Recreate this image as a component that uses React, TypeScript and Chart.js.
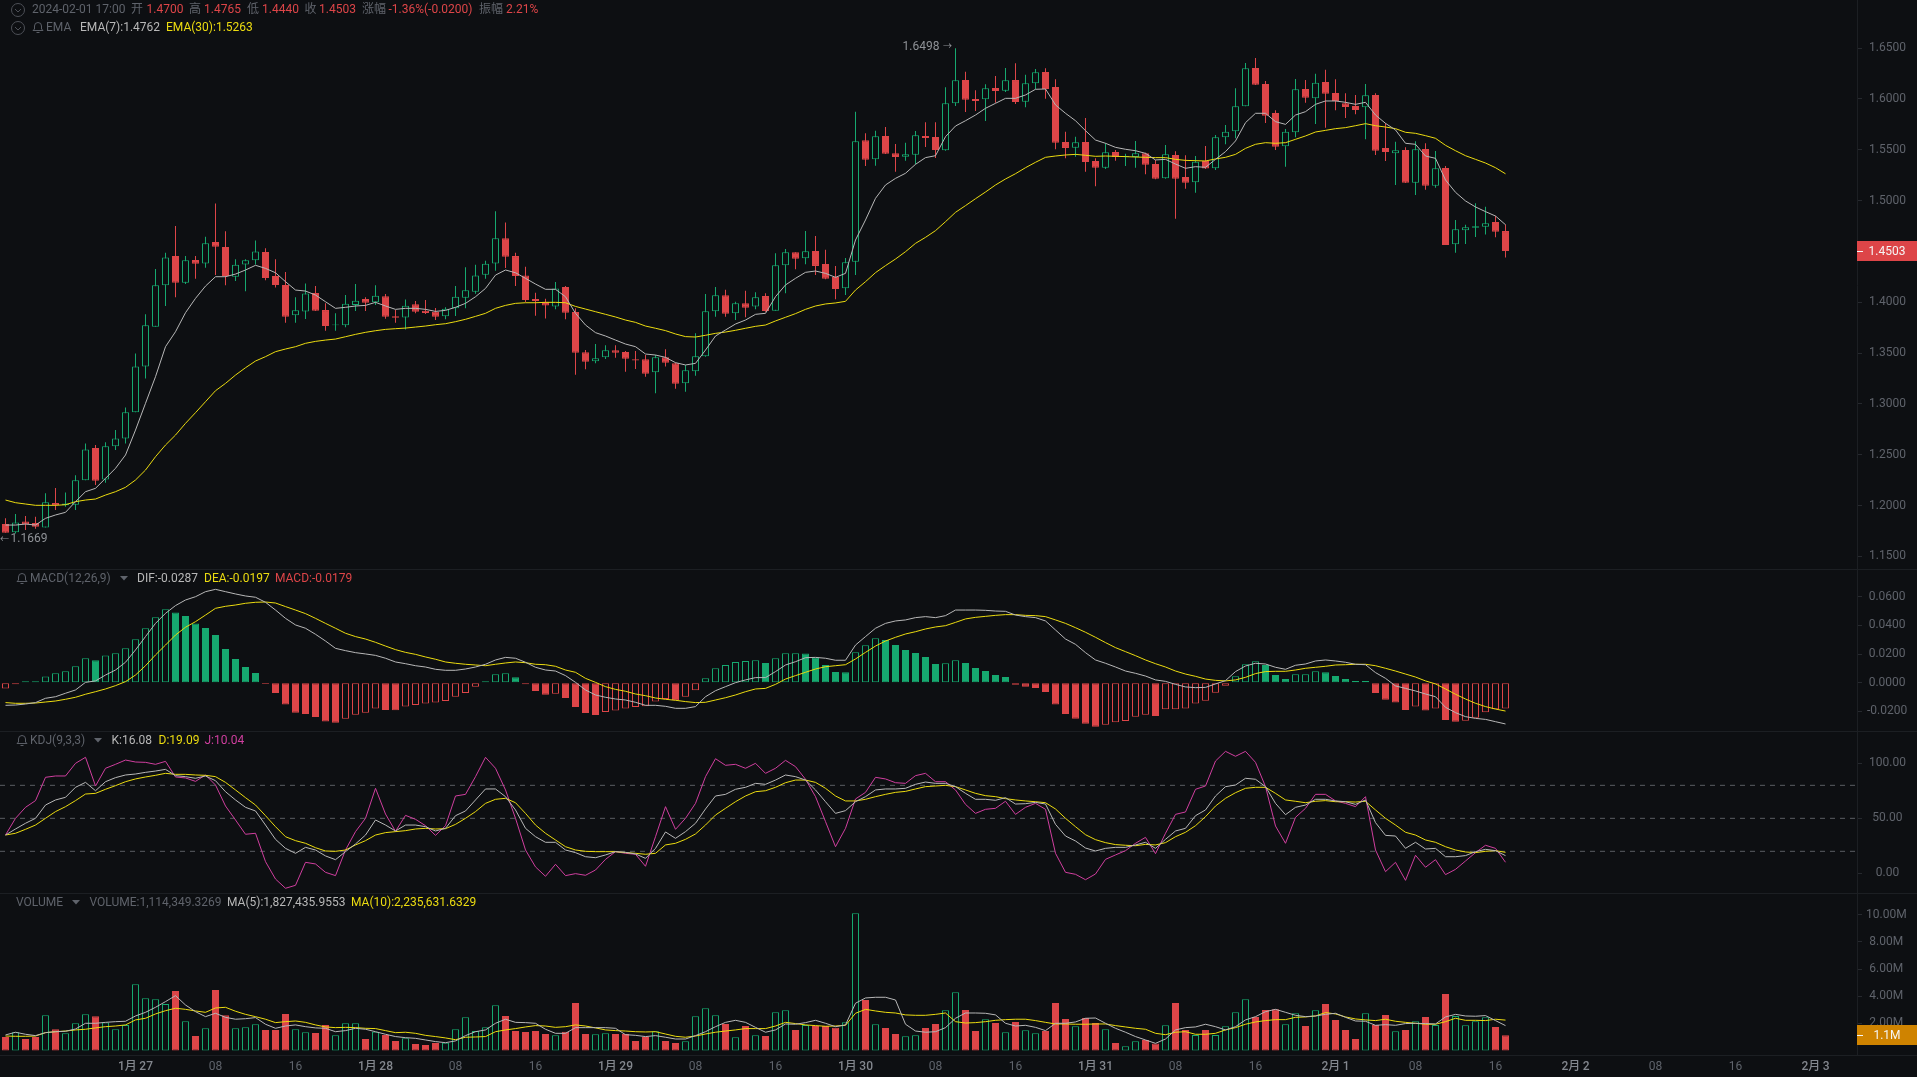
import React, { useEffect, useRef } from 'react';
import { Chart, registerables } from 'chart.js';

Chart.register(...registerables);

// hourly candles, 2024-01-26 11:00 to 2024-02-01 17:00
const opens = [
  1.1819,1.1737,1.1845,1.1829,1.1786,1.2026,1.2003,1.2009,1.2249,1.2566,
  1.2258,1.2583,1.2661,1.2917,1.3369,1.3759,1.4166,1.4454,1.4192,1.4415,
  1.4382,1.4592,1.4543,1.4251,1.4372,1.4412,1.4494,1.4258,1.4169,1.3871,
  1.3910,1.4090,1.3923,1.3773,1.3773,1.3973,1.4032,1.3999,1.4058,1.3861,
  1.3851,1.3979,1.3917,1.3907,1.3861,1.3940,1.4045,1.4104,1.4271,1.4382,
  1.4628,1.4454,1.4264,1.4032,1.4005,1.3959,1.4150,1.3904,1.3507,1.3419,
  1.3458,1.3527,1.3511,1.3439,1.3439,1.3311,1.3458,1.3399,1.3203,1.3321,
  1.3468,1.3911,1.4068,1.3891,1.3989,1.3957,1.4061,1.3917,1.4363,1.4491,
  1.4432,1.4504,1.4376,1.4248,1.4137,1.4399,1.5592,1.5405,1.5635,1.5464,
  1.5431,1.5451,1.5635,1.5625,1.5494,1.5956,1.6185,1.5998,1.5995,1.6107,
  1.6080,1.6185,1.5972,1.6153,1.6264,1.6117,1.5576,1.5520,1.5576,1.5389,
  1.5323,1.5477,1.5428,1.5428,1.5464,1.5359,1.5218,1.5448,1.5232,1.5179,
  1.5389,1.5317,1.5622,1.5681,1.5926,1.6303,1.6146,1.5861,1.5533,1.5671,
  1.6097,1.6005,1.6166,1.6058,1.5956,1.5930,1.5917,1.6038,1.5517,1.5464,
  1.5497,1.5176,1.5507,1.5146,1.5320,1.4569,1.4707,1.4733,1.4743,1.4789,1.4700,
];
const highs = [
  1.1875,1.1917,1.1898,1.1891,1.2121,1.2173,1.2130,1.2298,1.2612,1.2596,
  1.2622,1.2743,1.2966,1.3497,1.3881,1.4327,1.4487,1.4749,1.4454,1.4454,
  1.4644,1.4972,1.4697,1.4422,1.4422,1.4608,1.4530,1.4422,1.4297,1.4048,
  1.4185,1.4159,1.3989,1.3891,1.4071,1.4179,1.4048,1.4166,1.4081,1.3923,
  1.4028,1.4012,1.4022,1.3943,1.3950,1.4159,1.4343,1.4369,1.4408,1.4894,
  1.4785,1.4487,1.4349,1.4094,1.4035,1.4199,1.4159,1.3940,1.3530,1.3589,
  1.3576,1.3576,1.3521,1.3521,1.3481,1.3481,1.3537,1.3406,1.3383,1.3694,
  1.4081,1.4150,1.4124,1.4006,1.4114,1.4097,1.4088,1.4481,1.4524,1.4491,
  1.4701,1.4651,1.4517,1.4357,1.4435,1.5874,1.5661,1.5687,1.5723,1.5556,
  1.5569,1.5684,1.5769,1.5769,1.6113,1.6498,1.6267,1.6084,1.6143,1.6225,
  1.6303,1.6349,1.6238,1.6294,1.6300,1.6192,1.5677,1.5628,1.5812,1.5415,
  1.5563,1.5497,1.5461,1.5586,1.5471,1.5399,1.5546,1.5484,1.5445,1.5438,
  1.5536,1.5645,1.5743,1.6103,1.6353,1.6402,1.6176,1.5887,1.5704,1.6195,
  1.6185,1.6248,1.6287,1.6192,1.6054,1.6038,1.6146,1.6054,1.5759,1.5579,
  1.5523,1.5582,1.5563,1.5487,1.5340,1.4809,1.4763,1.4973,1.4940,1.4848,1.4765,
];
const lows = [
  1.1734,1.1727,1.1760,1.1773,1.1786,1.1957,1.1990,1.1957,1.2249,1.2203,
  1.2225,1.2547,1.2612,1.2917,1.3251,1.3759,1.3963,1.4048,1.4179,1.4231,
  1.4340,1.4267,1.4166,1.4209,1.4107,1.4372,1.4215,1.4146,1.3799,1.3799,
  1.3835,1.3913,1.3720,1.3720,1.3753,1.3913,1.3913,1.3973,1.3838,1.3799,
  1.3733,1.3891,1.3884,1.3825,1.3832,1.3864,1.3940,1.4084,1.4231,1.4310,
  1.4336,1.4159,1.4002,1.3868,1.3841,1.3930,1.3832,1.3287,1.3340,1.3399,
  1.3442,1.3455,1.3317,1.3344,1.3268,1.3104,1.3367,1.3150,1.3121,1.3278,
  1.3465,1.3858,1.3858,1.3825,1.3852,1.3930,1.3907,1.3917,1.4088,1.4324,
  1.4373,1.4268,1.4225,1.4029,1.4071,1.4268,1.5340,1.5343,1.5458,1.5284,
  1.5392,1.5356,1.5526,1.5418,1.5490,1.5930,1.5871,1.5881,1.5782,1.5962,
  1.6067,1.5949,1.5917,1.6094,1.6002,1.5504,1.5415,1.5431,1.5284,1.5140,
  1.5310,1.5392,1.5340,1.5323,1.5258,1.5209,1.5215,1.4822,1.5117,1.5077,
  1.5310,1.5300,1.5553,1.5612,1.5926,1.6136,1.5763,1.5497,1.5333,1.5622,
  1.5962,1.5753,1.5717,1.5887,1.5812,1.5848,1.5602,1.5448,1.5389,1.5153,
  1.5173,1.5055,1.5107,1.5127,1.4563,1.4487,1.4573,1.4642,1.4665,1.4638,1.4440,
];
const closes = [
  1.1734,1.1835,1.1816,1.1793,1.2032,1.2003,1.2022,1.2249,1.2553,1.2245,
  1.2583,1.2661,1.2917,1.3369,1.3773,1.4166,1.4441,1.4192,1.4412,1.4379,
  1.4579,1.4546,1.4258,1.4369,1.4412,1.4500,1.4238,1.4169,1.3858,1.3920,
  1.4087,1.3917,1.3766,1.3782,1.3986,1.4015,1.3995,1.4064,1.3858,1.3848,
  1.3966,1.3907,1.3894,1.3858,1.3936,1.4054,1.4117,1.4264,1.4379,1.4628,
  1.4448,1.4258,1.4022,1.4012,1.3969,1.4136,1.3897,1.3504,1.3415,1.3448,
  1.3527,1.3504,1.3445,1.3426,1.3298,1.3458,1.3406,1.3199,1.3331,1.3468,
  1.3911,1.4068,1.3888,1.3989,1.3947,1.4048,1.3914,1.4363,1.4491,1.4428,
  1.4501,1.4357,1.4232,1.4130,1.4392,1.5582,1.5402,1.5631,1.5461,1.5428,
  1.5454,1.5641,1.5615,1.5497,1.5956,1.6182,1.5992,1.5979,1.6103,1.6077,
  1.6182,1.5969,1.6153,1.6261,1.6097,1.5569,1.5517,1.5572,1.5379,1.5323,
  1.5474,1.5428,1.5438,1.5464,1.5353,1.5215,1.5454,1.5215,1.5176,1.5382,
  1.5314,1.5622,1.5677,1.5926,1.6300,1.6139,1.5835,1.5530,1.5677,1.6094,
  1.6012,1.6159,1.6051,1.5979,1.5920,1.5890,1.6035,1.5490,1.5477,1.5494,
  1.5176,1.5504,1.5146,1.5317,1.4563,1.4717,1.4737,1.4746,1.4776,1.4694,1.4503,
];
const ema7 = [
  1.1809,1.1809,1.1819,1.1809,1.1875,1.1908,1.1934,1.2039,1.2137,1.2170,
  1.2268,1.2367,1.2498,1.2743,1.3006,1.3268,1.3563,1.3710,1.3897,1.4038,
  1.4159,1.4251,1.4251,1.4277,1.4317,1.4363,1.4333,1.4290,1.4202,1.4120,
  1.4110,1.4071,1.4005,1.3940,1.3950,1.3963,1.3969,1.3999,1.3963,1.3930,
  1.3940,1.3940,1.3930,1.3910,1.3920,1.3950,1.3989,1.4054,1.4136,1.4267,
  1.4317,1.4290,1.4235,1.4179,1.4127,1.4127,1.4054,1.3891,1.3776,1.3701,
  1.3668,1.3628,1.3589,1.3563,1.3491,1.3481,1.3458,1.3406,1.3383,1.3399,
  1.3530,1.3668,1.3727,1.3786,1.3825,1.3881,1.3891,1.4055,1.4170,1.4235,
  1.4294,1.4307,1.4284,1.4245,1.4284,1.4612,1.4809,1.5022,1.5153,1.5218,
  1.5268,1.5356,1.5422,1.5441,1.5628,1.5733,1.5785,1.5841,1.5907,1.5956,
  1.6005,1.6005,1.6038,1.6094,1.6097,1.5940,1.5858,1.5785,1.5687,1.5595,
  1.5563,1.5523,1.5504,1.5490,1.5464,1.5399,1.5405,1.5359,1.5317,1.5333,
  1.5327,1.5405,1.5481,1.5586,1.5766,1.5858,1.5858,1.5776,1.5749,1.5841,
  1.5874,1.5946,1.5979,1.5979,1.5966,1.5946,1.5966,1.5841,1.5759,1.5694,
  1.5563,1.5553,1.5438,1.5415,1.5202,1.5081,1.4996,1.4937,1.4891,1.4848,1.4762,
];
const ema30 = [
  1.2055,1.2029,1.2016,1.2003,1.2003,1.2003,1.2009,1.2039,1.2055,1.2065,
  1.2104,1.2137,1.2180,1.2252,1.2350,1.2481,1.2596,1.2694,1.2809,1.2914,
  1.3022,1.3130,1.3202,1.3284,1.3356,1.3422,1.3465,1.3514,1.3540,1.3563,
  1.3596,1.3615,1.3628,1.3638,1.3661,1.3684,1.3704,1.3720,1.3733,1.3740,
  1.3746,1.3756,1.3766,1.3779,1.3789,1.3809,1.3832,1.3861,1.3891,1.3940,
  1.3969,1.3989,1.3995,1.3995,1.3999,1.3999,1.3995,1.3959,1.3933,1.3907,
  1.3881,1.3855,1.3825,1.3802,1.3766,1.3744,1.3721,1.3688,1.3662,1.3658,
  1.3675,1.3694,1.3707,1.3724,1.3744,1.3763,1.3776,1.3816,1.3852,1.3888,
  1.3930,1.3963,1.3983,1.3993,1.4009,1.4120,1.4202,1.4291,1.4360,1.4425,
  1.4497,1.4579,1.4638,1.4704,1.4792,1.4884,1.4950,1.5018,1.5084,1.5153,
  1.5212,1.5264,1.5323,1.5376,1.5425,1.5438,1.5448,1.5454,1.5445,1.5435,
  1.5438,1.5435,1.5432,1.5428,1.5425,1.5422,1.5422,1.5405,1.5395,1.5392,
  1.5389,1.5409,1.5425,1.5454,1.5513,1.5553,1.5569,1.5563,1.5569,1.5602,
  1.5635,1.5674,1.5690,1.5707,1.5717,1.5736,1.5756,1.5736,1.5723,1.5707,
  1.5671,1.5661,1.5638,1.5612,1.5543,1.5490,1.5441,1.5405,1.5369,1.5323,1.5263,
];
const macdBars = [
  -0.0039,-0.0011,0.0010,0.0010,0.0043,0.0066,0.0080,0.0115,0.0171,0.0157,
  0.0191,0.0205,0.0240,0.0303,0.0380,0.0456,0.0512,0.0489,0.0466,0.0414,
  0.0382,0.0333,0.0236,0.0166,0.0110,0.0068,-0.0008,-0.0071,-0.0152,-0.0208,
  -0.0217,-0.0238,-0.0269,-0.0278,-0.0250,-0.0222,-0.0208,-0.0180,-0.0190,-0.0192,
  -0.0166,-0.0155,-0.0145,-0.0138,-0.0127,-0.0097,-0.0071,-0.0027,0.0010,0.0059,
  0.0066,0.0038,-0.0011,-0.0057,-0.0083,-0.0076,-0.0106,-0.0169,-0.0210,-0.0224,
  -0.0203,-0.0194,-0.0180,-0.0169,-0.0164,-0.0131,-0.0113,-0.0122,-0.0097,-0.0052,
  0.0031,0.0101,0.0124,0.0145,0.0152,0.0157,0.0138,0.0171,0.0205,0.0205,
  0.0204,0.0175,0.0124,0.0075,0.0074,0.0212,0.0261,0.0310,0.0298,0.0263,
  0.0229,0.0208,0.0180,0.0131,0.0136,0.0157,0.0138,0.0103,0.0082,0.0054,
  0.0040,-0.0013,-0.0027,-0.0036,-0.0064,-0.0152,-0.0217,-0.0250,-0.0285,-0.0306,
  -0.0292,-0.0275,-0.0266,-0.0236,-0.0222,-0.0231,-0.0185,-0.0184,-0.0180,-0.0145,
  -0.0125,-0.0069,-0.0020,0.0045,0.0129,0.0150,0.0124,0.0054,0.0026,0.0059,
  0.0060,0.0080,0.0073,0.0047,0.0026,0.0013,0.0012,-0.0071,-0.0118,-0.0138,
  -0.0190,-0.0166,-0.0194,-0.0180,-0.0259,-0.0271,-0.0264,-0.0243,-0.0206,-0.0185,-0.0179,
];
const dif = [
  -0.0157,-0.0155,-0.0148,-0.0138,-0.0108,-0.0097,-0.0073,-0.0050,0.0003,0.0013,
  0.0054,0.0089,0.0143,0.0229,0.0322,0.0414,0.0484,0.0538,0.0577,0.0600,
  0.0635,0.0651,0.0635,0.0619,0.0605,0.0596,0.0561,0.0507,0.0449,0.0403,
  0.0380,0.0338,0.0291,0.0240,0.0224,0.0210,0.0201,0.0191,0.0171,0.0145,
  0.0133,0.0119,0.0110,0.0094,0.0087,0.0087,0.0096,0.0110,0.0129,0.0159,
  0.0177,0.0171,0.0143,0.0108,0.0089,0.0082,0.0050,0.0003,-0.0050,-0.0085,
  -0.0101,-0.0113,-0.0120,-0.0136,-0.0157,-0.0157,-0.0164,-0.0178,-0.0178,-0.0166,
  -0.0097,-0.0055,-0.0027,0.0001,0.0020,0.0036,0.0036,0.0078,0.0124,0.0147,
  0.0175,0.0177,0.0171,0.0157,0.0157,0.0263,0.0322,0.0380,0.0414,0.0431,
  0.0438,0.0454,0.0461,0.0454,0.0468,0.0507,0.0507,0.0507,0.0505,0.0500,
  0.0498,0.0472,0.0461,0.0454,0.0431,0.0368,0.0305,0.0268,0.0210,0.0159,
  0.0136,0.0110,0.0082,0.0066,0.0047,0.0020,0.0010,-0.0011,-0.0029,-0.0034,
  -0.0032,-0.0008,0.0015,0.0078,0.0117,0.0136,0.0131,0.0108,0.0094,0.0122,
  0.0131,0.0152,0.0159,0.0152,0.0143,0.0129,0.0126,0.0071,0.0031,-0.0022,
  -0.0039,-0.0057,-0.0078,-0.0097,-0.0171,-0.0208,-0.0236,-0.0248,-0.0255,-0.0271,-0.0287,
];
const dea = [
  -0.0138,-0.0143,-0.0143,-0.0141,-0.0134,-0.0127,-0.0115,-0.0101,-0.0080,-0.0062,
  -0.0043,-0.0020,0.0008,0.0054,0.0119,0.0194,0.0263,0.0333,0.0387,0.0426,
  0.0472,0.0519,0.0533,0.0542,0.0554,0.0561,0.0563,0.0556,0.0531,0.0507,
  0.0482,0.0449,0.0414,0.0380,0.0345,0.0322,0.0305,0.0282,0.0256,0.0231,
  0.0212,0.0198,0.0180,0.0164,0.0145,0.0136,0.0129,0.0124,0.0119,0.0129,
  0.0138,0.0145,0.0140,0.0129,0.0126,0.0115,0.0089,0.0073,0.0031,0.0003,
  -0.0027,-0.0046,-0.0059,-0.0078,-0.0090,-0.0106,-0.0115,-0.0122,-0.0131,-0.0138,
  -0.0136,-0.0120,-0.0104,-0.0085,-0.0062,-0.0043,-0.0039,-0.0011,0.0026,0.0050,
  0.0073,0.0096,0.0112,0.0119,0.0126,0.0166,0.0212,0.0256,0.0291,0.0317,
  0.0340,0.0356,0.0375,0.0389,0.0398,0.0421,0.0445,0.0456,0.0463,0.0470,
  0.0475,0.0475,0.0470,0.0468,0.0461,0.0438,0.0414,0.0384,0.0352,0.0317,
  0.0280,0.0245,0.0217,0.0189,0.0159,0.0133,0.0110,0.0082,0.0061,0.0045,
  0.0026,0.0017,0.0013,0.0020,0.0038,0.0064,0.0078,0.0080,0.0080,0.0089,
  0.0101,0.0108,0.0115,0.0124,0.0126,0.0129,0.0129,0.0119,0.0101,0.0082,
  0.0061,0.0040,0.0013,-0.0008,-0.0043,-0.0080,-0.0113,-0.0143,-0.0166,-0.0183,-0.0197,
];
const kdjK = [
  34.8,40.3,45.5,50.0,62.1,66.7,69.1,78.2,82.7,75.1,
  83.3,87.0,89.4,90.3,91.8,93.0,94.5,88.8,87.9,86.4,
  88.5,84.2,74.2,66.7,60.0,56.7,43.9,30.9,22.7,18.2,
  23.6,21.2,15.8,12.4,19.7,26.7,34.8,48.5,43.9,38.5,
  43.9,43.9,42.4,38.5,40.9,52.4,56.7,66.7,76.7,76.7,
  69.7,57.6,40.9,33.3,28.2,28.2,21.2,18.8,15.1,14.2,
  16.7,19.7,19.1,17.6,13.6,22.7,37.6,31.8,37.9,45.5,
  58.5,70.3,71.8,76.4,78.2,81.8,80.9,84.8,89.4,87.9,
  84.8,75.8,65.1,54.5,57.0,65.1,69.7,75.8,76.7,76.7,
  77.3,80.9,83.0,81.8,81.8,78.8,72.7,67.3,67.3,66.4,
  68.8,63.0,63.3,64.5,63.0,44.5,33.9,29.4,23.0,20.3,
  22.7,23.6,23.6,25.8,28.2,22.7,30.9,38.5,40.9,52.4,
  57.6,70.3,78.8,80.3,86.4,85.5,78.8,63.6,53.3,60.0,
  62.1,67.3,67.3,65.8,65.1,62.7,66.7,46.1,34.5,33.9,
  22.7,28.2,22.1,22.7,15.1,15.1,16.1,19.7,21.8,20.6,16.08,
];
const kdjD = [
  34.8,36.4,40.0,43.9,50.0,56.1,60.6,66.1,72.1,72.7,
  76.4,79.7,83.3,85.8,87.6,89.1,90.9,90.0,90.0,89.4,
  89.1,87.9,82.7,75.8,68.8,62.1,52.4,42.4,33.3,29.7,
  27.3,23.3,20.3,20.0,21.2,25.8,29.7,34.8,37.0,37.9,
  38.8,40.3,40.9,40.3,40.6,44.5,50.0,56.1,63.6,67.3,
  68.2,64.2,54.5,43.9,36.4,30.3,24.2,21.2,20.0,19.7,
  19.7,19.7,18.8,18.2,17.3,18.2,25.8,27.3,30.9,35.8,
  43.9,53.0,59.1,65.1,70.3,74.2,75.1,78.2,82.4,84.8,
  84.8,82.7,77.3,70.3,65.8,65.8,67.3,69.7,71.8,73.6,
  74.5,76.7,78.8,79.4,80.0,78.8,75.8,72.7,70.6,69.7,
  67.9,66.7,65.8,65.1,64.2,58.5,50.0,42.4,35.1,30.6,
  27.9,26.1,25.5,25.1,26.3,25.8,27.9,33.3,37.3,43.3,
  51.5,61.2,68.2,73.3,77.3,78.2,78.2,72.7,66.7,65.5,
  64.2,65.5,66.1,65.1,65.1,64.8,65.5,57.6,50.0,43.9,
  37.3,34.8,30.3,28.2,24.2,21.2,19.4,18.8,20.0,20.6,19.09,
];
const kdjJ = [
  34.8,50.0,60.0,66.1,87.3,88.5,88.5,100.0,105.5,79.4,
  95.5,99.1,103.0,101.2,100.9,99.1,101.8,87.6,86.7,83.6,
  89.4,80.3,61.2,48.5,35.5,36.4,10.6,-5.2,-13.6,-10.9,
  10.0,8.5,0.9,-2.1,21.2,37.9,50.0,77.3,53.9,38.2,
  52.7,49.1,43.3,34.5,43.3,70.3,71.8,87.9,105.5,95.5,
  75.8,50.0,21.2,5.8,-2.7,8.2,-2.1,-0.3,-1.8,3.0,
  12.7,19.7,18.2,17.3,6.4,33.3,60.6,40.0,50.0,63.6,
  87.9,104.2,98.2,99.1,95.5,100.0,90.9,95.5,102.7,97.0,
  85.5,69.7,47.0,24.2,40.9,67.6,73.6,87.3,85.8,82.4,
  81.8,88.8,90.9,83.3,83.3,75.8,62.7,54.5,58.2,59.1,
  65.5,53.6,60.0,63.6,58.2,18.2,0.9,-0.9,-5.8,-0.6,
  12.7,16.7,20.6,27.3,32.7,17.9,36.4,53.6,55.8,76.4,
  79.4,102.1,110.9,106.4,110.9,100.9,78.8,43.0,27.3,50.9,
  59.1,71.8,71.8,65.8,63.6,60.6,69.7,21.2,1.5,10.0,
  -6.4,16.4,5.5,12.4,-1.2,3.6,11.2,18.8,25.5,22.7,10.04,
];
const kdjLevels = [20, 50, 80];
// volume in millions
const volumes = [
  0.99,1.34,0.84,0.99,2.59,1.56,1.26,2.00,2.66,2.52,
  2.05,1.56,1.88,4.88,3.84,3.77,3.43,4.39,2.15,1.06,
  1.63,4.46,2.59,1.63,1.70,1.93,1.51,1.51,2.69,1.56,
  1.34,1.29,1.88,1.11,2.00,2.00,0.84,1.38,1.14,0.70,
  0.89,0.47,0.40,0.55,0.57,1.56,2.44,1.43,1.70,3.33,
  2.54,1.43,1.36,1.43,1.21,1.11,1.38,3.50,1.21,1.19,
  1.26,1.21,1.21,0.70,0.99,1.41,0.70,0.55,0.67,2.52,
  3.11,2.59,1.95,0.97,1.80,1.11,1.06,2.81,2.96,1.51,
  1.88,1.80,1.80,1.68,2.07,10.12,3.72,1.93,1.66,1.21,
  1.04,1.11,1.66,1.95,2.96,4.29,2.98,1.43,2.30,2.02,
  1.34,2.10,1.48,1.26,1.43,3.50,2.32,1.78,2.39,2.02,
  1.56,0.55,0.30,0.67,0.77,0.50,1.85,3.50,1.51,1.14,
  1.51,1.14,1.78,2.81,3.77,2.47,2.98,3.03,1.93,2.74,
  1.80,2.96,3.43,2.25,1.51,0.84,2.74,1.88,2.62,1.41,
  1.51,2.15,2.47,1.88,4.16,2.54,1.85,2.15,2.44,1.73,1.114,
];
const volMa5 = [
  1.14,1.34,1.19,1.09,1.31,1.38,1.41,1.58,2.00,2.00,
  2.07,2.12,2.15,2.54,2.81,3.18,3.60,4.04,3.35,2.86,
  2.49,2.74,2.44,2.30,2.34,2.42,1.93,1.63,1.80,1.88,
  1.75,1.66,1.63,1.38,1.46,1.63,1.56,1.38,1.19,1.02,
  0.94,0.89,0.77,0.65,0.57,0.70,1.09,1.38,1.51,2.00,
  2.30,2.07,2.05,2.00,1.56,1.26,1.26,1.68,1.68,1.68,
  1.68,1.63,1.16,1.11,1.02,1.09,0.97,0.84,0.84,1.09,
  1.38,1.75,2.07,2.22,2.07,1.70,1.34,1.51,1.95,1.93,
  2.05,2.22,2.00,1.75,1.88,3.48,3.87,3.92,3.92,3.72,
  1.93,1.43,1.34,1.38,1.68,2.37,2.76,2.76,2.74,2.62,
  2.00,1.80,1.85,1.70,1.46,2.00,2.00,2.10,2.37,2.39,
  2.00,1.63,1.34,1.02,0.77,0.52,0.84,1.51,1.68,1.73,
  1.93,1.75,1.51,1.75,2.25,2.49,2.86,3.03,2.81,2.59,
  2.49,2.54,2.66,2.74,2.44,2.17,2.15,1.85,1.90,1.85,
  1.98,2.00,1.98,1.95,2.47,2.66,2.54,2.52,2.57,2.20,1.827,
];
const volMa10 = [
  1.06,1.04,1.04,1.06,1.31,1.38,1.43,1.51,1.56,1.66,
  1.75,1.80,1.88,2.25,2.37,2.69,2.93,3.11,3.03,2.91,
  2.81,3.13,3.18,2.89,2.66,2.49,2.30,2.05,2.12,2.17,
  2.07,1.88,1.73,1.68,1.70,1.68,1.63,1.61,1.46,1.31,
  1.34,1.26,1.11,1.02,0.92,0.79,0.97,0.99,1.02,1.38,
  1.51,1.61,1.73,1.83,1.80,1.70,1.75,1.88,1.80,1.66,
  1.51,1.46,1.43,1.38,1.36,1.38,1.21,1.04,0.97,1.06,
  1.21,1.34,1.43,1.51,1.61,1.61,1.61,1.80,2.07,1.98,
  1.88,1.83,1.78,1.80,1.85,2.74,3.03,2.91,2.81,2.76,
  2.62,2.59,2.59,2.66,2.76,2.12,2.02,2.05,2.12,2.22,
  2.27,2.30,2.30,2.20,2.07,1.95,1.95,1.93,1.93,1.95,
  1.95,1.83,1.73,1.63,1.56,1.26,1.16,1.34,1.38,1.19,
  1.19,1.26,1.51,1.68,1.93,2.10,2.20,2.27,2.27,2.44,
  2.47,2.54,2.79,2.69,2.47,2.32,2.25,2.20,2.30,2.15,
  2.07,2.00,1.93,1.93,2.12,2.37,2.22,2.22,2.20,2.30,2.2356,
];

const xTickIndexes = [13, 21, 29, 37, 45, 53, 61, 69, 77, 85, 93, 101, 109, 117, 125, 133, 141, 149, 157, 165, 173, 181];
const xTickLabels = ['1月\u200927', '08', '16', '1月\u200928', '08', '16', '1月\u200929', '08', '16', '1月\u200930', '08', '16', '1月\u200931', '08', '16', '2月\u20091', '08', '16', '2月\u20092', '08', '16', '2月\u20093'];
const priceTicks = [1.15, 1.2, 1.25, 1.3, 1.35, 1.4, 1.45, 1.5, 1.55, 1.6, 1.65];
const macdTicks = [-0.02, 0, 0.02, 0.04, 0.06];
const kdjTicks = [0, 50, 100];
const volumeTicks = [2, 4, 6, 8, 10];

const BG = '#0d0f12';
const UP = '#16a86f';
const DOWN = '#dd4548';
const WHITE_LINE = '#b8b8b8';
const YELLOW = '#ecdc10';
const PINK = '#d03f9f';
const AXIS_TEXT = '#5f636b';
const MUTED = '#5f636b';
const LINE_COLOR = '#1c1f23';
const FONT = 'Roboto, "Noto Sans CJK SC", sans-serif';

const X_MIN = -0.55;
const X_MAX = 185.15;

const lineSet = (values, color) => ({
  type: 'line',
  data: values.map((y, x) => ({ x, y })),
  borderColor: color,
  borderWidth: 1,
  pointRadius: 0,
  tension: 0,
  order: 0,
});

const barSet = (data, thickness, fill, stroke, borderWidth, order) => ({
  type: 'bar',
  data,
  grouped: false,
  barThickness: thickness,
  inflateAmount: 0,
  borderSkipped: false,
  backgroundColor: fill,
  borderColor: stroke,
  borderWidth,
  order,
});

const yAxis = (min, max, values, format, padding) => ({
  type: 'linear',
  position: 'right',
  min,
  max,
  afterBuildTicks: (scale) => {
    scale.ticks = values.map((value) => ({ value }));
  },
  afterFit: (scale) => {
    // no room kept for half a label at the ends, the panes touch each other
    scale.width = 60;
    scale.paddingTop = 0;
    scale.paddingBottom = 0;
  },
  grid: { drawOnChartArea: false, tickLength: 5, color: '#26292e' },
  border: { color: LINE_COLOR },
  ticks: {
    callback: format,
    color: AXIS_TEXT,
    font: { family: FONT, size: 12 },
    crossAlign: 'center',
    padding,
  },
});

const hiddenX = {
  type: 'linear',
  display: false,
  min: X_MIN,
  max: X_MAX,
  offset: false,
  grid: { offset: false },
};

const labelledX = {
  type: 'linear',
  position: 'bottom',
  min: X_MIN,
  max: X_MAX,
  offset: false,
  afterBuildTicks: (scale) => {
    scale.ticks = xTickIndexes.map((value) => ({ value }));
  },
  afterFit: (scale) => {
    scale.height = 22;
    scale.paddingLeft = 0;
    scale.paddingRight = 0;
  },
  grid: { display: false, drawTicks: false, offset: false },
  border: { display: false },
  ticks: {
    autoSkip: false,
    maxRotation: 0,
    padding: 5,
    callback: (_v, i) => xTickLabels[i],
    color: (ctx) => (xTickLabels[ctx.index]?.includes('月') ? '#83878e' : AXIS_TEXT),
    font: (ctx) => ({
      family: FONT,
      size: 12,
      weight: xTickLabels[ctx.index]?.includes('月') ? '500' : '400',
    }),
  },
};

// value tag sitting on the right axis
const tagPlugin = (id, value, text, color) => ({
  id,
  afterDraw(chart) {
    const { ctx, chartArea } = chart;
    const y = Math.round(chart.scales.y.getPixelForValue(value));
    ctx.save();
    ctx.fillStyle = color;
    ctx.fillRect(chartArea.right, y - 10, 60, 20);
    ctx.fillStyle = '#f5f5f5';
    ctx.fillRect(chartArea.right, y, 6, 1);
    ctx.font = `12px ${FONT}`;
    ctx.textAlign = 'center';
    ctx.textBaseline = 'middle';
    ctx.fillText(text, chartArea.right + 30, y + 1);
    ctx.restore();
  },
});

// the highest and lowest price notes, the arrows are a size smaller than the numbers
const extremesPlugin = {
  id: 'extremes',
  afterDraw(chart) {
    const { ctx, scales } = chart;
    const highX = scales.x.getPixelForValue(95);
    const highY = scales.y.getPixelForValue(1.6498) - 1;
    const lowY = scales.y.getPixelForValue(1.1669);
    ctx.save();
    ctx.fillStyle = '#8f9297';
    ctx.textBaseline = 'middle';
    ctx.font = `12px ${FONT}`;
    ctx.textAlign = 'right';
    ctx.fillText('1.6498', highX - 16, highY);
    ctx.textAlign = 'left';
    ctx.fillText('1.1669', 10.5, lowY);
    ctx.font = `9px ${FONT}`;
    ctx.fillText('←', 0, lowY);
    ctx.textAlign = 'right';
    ctx.fillText('→', highX - 3.5, highY);
    ctx.restore();
  },
};

const candleColors = closes.map((c, i) => (c >= opens[i] ? UP : DOWN));

const makeChart = (canvas, datasets, x, y, plugins = []) =>
  new Chart(canvas.getContext('2d'), {
    type: 'bar',
    data: { datasets },
    plugins,
    options: {
      responsive: false,
      animation: false,
      events: [],
      layout: { padding: 0 },
      plugins: { legend: { display: false }, tooltip: { enabled: false } },
      scales: { x, y },
    },
  });

const Text = ({ x, y, color = MUTED, children }) => (
  <span
    style={{
      position: 'absolute',
      left: x,
      top: y - 8,
      height: 16,
      lineHeight: '16px',
      fontSize: 12,
      color,
      whiteSpace: 'nowrap',
      fontFamily: FONT,
    }}
  >
    {children}
  </span>
);

const Chevron = ({ y }) => (
  <svg style={{ position: 'absolute', left: 11, top: y - 7 }} width="15" height="15" viewBox="0 0 15 15" fill="none" stroke="#4d5057">
    <circle cx="7" cy="7" r="6.5" />
    <path d="M4 6 L7 9 L10 6" />
  </svg>
);

const Bell = ({ x, y }) => (
  <svg style={{ position: 'absolute', left: x, top: y - 6 }} width="12" height="13" viewBox="0 0 12 13" fill="none" stroke="#5a5e66">
    <path d="M1 9.5 L2.5 8 V5 A3.5 3.5 0 0 1 9.5 5 V8 L11 9.5 Z" />
    <path d="M4.5 11.5 H7.5" />
  </svg>
);

const Caret = ({ x, y }) => (
  <svg style={{ position: 'absolute', left: x, top: y - 2 }} width="8" height="5" viewBox="0 0 8 5">
    <path d="M0 0 H8 L4 4.5 Z" fill="#5f636b" />
  </svg>
);

const Rule = ({ y }) => (
  <div style={{ position: 'absolute', left: 0, top: y, width: 1917, height: 1, background: LINE_COLOR }} />
);

const pane = (top) => ({ position: 'absolute', left: 0, top, display: 'block' });

export default function App() {
  const priceRef = useRef(null);
  const macdRef = useRef(null);
  const kdjRef = useRef(null);
  const volumeRef = useRef(null);

  useEffect(() => {
    document.body.style.margin = '0';
    document.body.style.background = BG;

    const hollow = (color, filled) => (filled ? color : BG);

    const price = makeChart(
      priceRef.current,
      [
        lineSet(ema7, WHITE_LINE),
        lineSet(ema30, YELLOW),
        barSet(
          opens.map((o, x) => ({ x, y: [o, closes[x]] })),
          7,
          candleColors.map((c) => hollow(c, c === DOWN)),
          candleColors,
          1,
          1,
        ),
        barSet(
          lows.map((l, x) => ({ x, y: [l, highs[x]] })),
          1,
          candleColors,
          candleColors,
          0,
          2,
        ),
      ],
      hiddenX,
      yAxis(1.1367, 1.6972, priceTicks, (v) => Number(v).toFixed(4), 7),
      [extremesPlugin, tagPlugin('lastPrice', closes[closes.length - 1], '1.4503', DOWN)],
    );

    const macdColors = macdBars.map((v) => (v >= 0 ? UP : DOWN));
    const macd = makeChart(
      macdRef.current,
      [
        lineSet(dif, WHITE_LINE),
        lineSet(dea, YELLOW),
        barSet(
          macdBars.map((y, x) => ({ x, y })),
          7,
          macdBars.map((v, i) => hollow(macdColors[i], i === 0 ? false : v < macdBars[i - 1])),
          macdColors,
          1,
          1,
        ),
      ],
      hiddenX,
      yAxis(-0.0336, 0.0786, macdTicks, (v) => Number(v).toFixed(4), 5),
    );

    const kdj = makeChart(
      kdjRef.current,
      [
        lineSet(kdjK, WHITE_LINE),
        lineSet(kdjD, YELLOW),
        lineSet(kdjJ, PINK),
        ...kdjLevels.map((y) => ({
          type: 'line',
          data: [
            { x: X_MIN, y },
            { x: X_MAX, y },
          ],
          borderColor: '#5a5d62',
          borderWidth: 1,
          borderDash: [5, 5],
          pointRadius: 0,
          order: 3,
        })),
      ],
      hiddenX,
      yAxis(-17.9, 129.4, kdjTicks, (v) => Number(v).toFixed(2), 7),
    );

    const volume = makeChart(
      volumeRef.current,
      [
        lineSet(volMa5, WHITE_LINE),
        lineSet(volMa10, YELLOW),
        barSet(
          volumes.map((y, x) => ({ x, y })),
          7,
          candleColors.map((c) => hollow(c, c === DOWN)),
          candleColors,
          1,
          1,
        ),
      ],
      labelledX,
      yAxis(-0.34, 11.616, volumeTicks, (v) => `${Number(v).toFixed(2)}M`, 4),
      [tagPlugin('lastVolume', volumes[volumes.length - 1], '1.1M', '#cf8300')],
    );

    return () => {
      price.destroy();
      macd.destroy();
      kdj.destroy();
      volume.destroy();
    };
  }, []);

  return (
    <div style={{ position: 'fixed', left: 0, top: 0, width: 1917, height: 1077, background: BG, overflow: 'hidden' }}>
      <canvas ref={priceRef} width={1917} height={570} style={pane(0)} />
      <canvas ref={macdRef} width={1917} height={161} style={pane(570)} />
      <canvas ref={kdjRef} width={1917} height={162} style={pane(731)} />
      <canvas ref={volumeRef} width={1917} height={184} style={pane(893)} />
      <Rule y={569} />
      <Rule y={731} />
      <Rule y={893} />
      <Rule y={1055} />

      <Chevron y={10} />
      <Text x={32} y={9}>2024-02-01 17:00</Text>
      <Text x={131} y={9}>开</Text>
      <Text x={146.5} y={9} color={DOWN}>1.4700</Text>
      <Text x={189} y={9}>高</Text>
      <Text x={204} y={9} color={DOWN}>1.4765</Text>
      <Text x={247} y={9}>低</Text>
      <Text x={262} y={9} color={DOWN}>1.4440</Text>
      <Text x={304.5} y={9}>收</Text>
      <Text x={319} y={9} color={DOWN}>1.4503</Text>
      <Text x={362} y={9}>涨幅</Text>
      <Text x={388.5} y={9} color={DOWN}>-1.36%(-0.0200)</Text>
      <Text x={479} y={9}>振幅</Text>
      <Text x={506} y={9} color={DOWN}>2.21%</Text>

      <Chevron y={28} />
      <Bell x={32} y={27} />
      <Text x={46} y={27}>EMA</Text>
      <Text x={80} y={27} color={WHITE_LINE}>EMA(7):1.4762</Text>
      <Text x={166} y={27} color={YELLOW}>EMA(30):1.5263</Text>

      <Bell x={16} y={578} />
      <Text x={30} y={578}>MACD(12,26,9)</Text>
      <Caret x={120} y={578} />
      <Text x={137} y={578} color={WHITE_LINE}>DIF:-0.0287</Text>
      <Text x={204} y={578} color={YELLOW}>DEA:-0.0197</Text>
      <Text x={275} y={578} color={DOWN}>MACD:-0.0179</Text>

      <Bell x={16} y={740} />
      <Text x={30} y={740}>KDJ(9,3,3)</Text>
      <Caret x={94} y={740} />
      <Text x={111.5} y={740} color={WHITE_LINE}>K:16.08</Text>
      <Text x={158.5} y={740} color={YELLOW}>D:19.09</Text>
      <Text x={204.5} y={740} color={PINK}>J:10.04</Text>

      <Text x={16} y={902}>VOLUME</Text>
      <Caret x={72} y={902} />
      <Text x={89.5} y={902}>VOLUME:1,114,349.3269</Text>
      <Text x={227} y={902} color={WHITE_LINE}>MA(5):1,827,435.9553</Text>
      <Text x={351} y={902} color={YELLOW}>MA(10):2,235,631.6329</Text>
    </div>
  );
}
